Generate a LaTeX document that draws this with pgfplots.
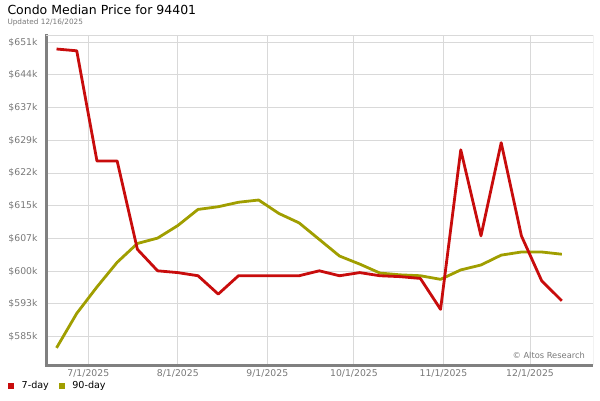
\documentclass[border=0pt]{standalone}
\usepackage{pgfplots}
\pgfplotsset{compat=1.18}
\usepackage{fontspec}
\setmainfont{DejaVu Sans}

\definecolor{sevenday}{RGB}{200,12,12}
\definecolor{ninetyday}{RGB}{160,158,0}
\definecolor{gridgray}{RGB}{217,217,217}
\definecolor{axisgray}{RGB}{128,128,128}
\definecolor{labelgray}{RGB}{120,120,120}

% weekly points, x = days from 7/1/2025, y = price in $k
\pgfplotstableread{
day  price
-11  649.6
-4   649.2
3    624.6
10   624.6
17   604.9
24   600.1
31   599.7
38   599.0
45   594.9
52   599.0
59   599.0
66   599.0
73   599.0
80   600.1
87   599.0
94   599.7
101  599.0
108  598.8
115  598.4
122  591.5
129  627.1
136  607.9
143  628.7
150  607.9
157  597.9
164  593.4
}\sevenday

\pgfplotstableread{
day  price
-11  582.9
-4   590.6
3    596.5
10   602.0
17   606.2
24   607.4
31   610.2
38   613.8
45   614.4
52   615.4
59   615.9
66   612.9
73   610.8
80   607.1
87   603.4
94   601.6
101  599.6
108  599.2
115  599.0
122  598.2
129  600.3
136  601.4
143  603.6
150  604.3
157  604.3
164  603.8
}\ninetyday

\begin{document}
\begin{tikzpicture}
\node[anchor=north west, inner sep=0pt] at (7.3pt,395pt) {\fontsize{12.5}{14}\selectfont Condo Median Price for 94401};
\node[anchor=north west, inner sep=0pt, text=labelgray] at (7.3pt,381.5pt) {\fontsize{7.3}{9}\selectfont Updated 12/16/2025};
\begin{axis}[
  at={(46pt,35pt)}, anchor=south west,
  scale only axis,
  width=547.3pt, height=329.3pt,
  xmin=-14.65, xmax=174.9,
  ymin=579.08, ymax=652.57,
  axis x line=bottom, axis y line=left,
  axis line style={draw=axisgray, line width=3pt, -},
  x axis line style={shorten <=-1.5pt},
  y axis line style={shorten >=-2pt},
  major tick length=0pt,
  xtick={0,31,62,92,123,153},
  xticklabels={7/1/2025,8/1/2025,9/1/2025,10/1/2025,11/1/2025,12/1/2025},
  ytick={585.4,592.7,600,607.3,614.6,621.9,629.2,636.5,643.8,651.1},
  yticklabels={\$585k,\$593k,\$600k,\$607k,\$615k,\$622k,\$629k,\$637k,\$644k,\$651k},
  /pgf/number format/assume math mode=true,
  tick label style={font=\fontsize{9.3}{11}\selectfont, text=labelgray, inner sep=0pt},
  x tick label style={anchor=north, yshift=-4.5pt},
  y tick label style={anchor=east, xshift=-8.3pt},
  grid=major,
  major grid style={draw=gridgray, line width=1pt},
  legend style={draw=none, fill=none, at={(axis description cs:-0.0689,-0.0638)}, anchor=west,
    inner sep=0pt, outer sep=0pt, font=\fontsize{9.6}{11}\selectfont,
    nodes={inner sep=2pt},
    /tikz/every odd column/.append style={column sep=5.7pt},
    /tikz/every even column/.append style={column sep=8pt}},
  legend columns=-1,
  legend image code/.code={\fill[#1, draw=none] (0pt,-2.85pt) rectangle (5.7pt,2.85pt);},
]
\addlegendimage{fill=sevenday}
\addlegendentry{7-day}
\addlegendimage{fill=ninetyday}
\addlegendentry{90-day}
\addplot[forget plot, ninetyday, line width=2.8pt, line join=round] table[x=day, y=price] {\ninetyday};
\addplot[forget plot, sevenday, line width=2.8pt, line join=round] table[x=day, y=price] {\sevenday};
\draw[gridgray, line width=1pt] (rel axis cs:0,1) -- (rel axis cs:1,1) -- (rel axis cs:1,0);
\node[anchor=east, inner sep=0pt, text=labelgray, font=\fontsize{8.3}{10}\selectfont] at (rel axis cs:0.985,0.0304) {\textcopyright{} Altos Research};
\end{axis}
\pgfresetboundingbox
\useasboundingbox (0pt,0pt) rectangle (600pt,400pt);
\end{tikzpicture}
\end{document}
